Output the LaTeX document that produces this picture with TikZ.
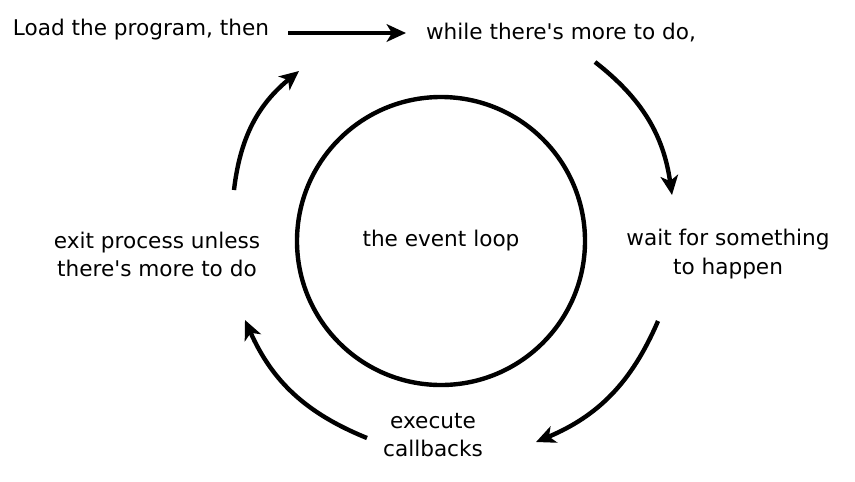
\documentclass[tikz,border=0pt]{standalone}
\usepackage{fontspec}
\newfontfamily\lblfont{DejaVu Sans}
\usetikzlibrary{arrows.meta,positioning}
\tikzset{
  lbl/.style={font=\lblfont\fontsize{12.3}{16}\selectfont, align=center},
  flow/.style={line width=2.5pt, -{Stealth[length=11pt,width=10pt,inset=3pt]}}
}
\begin{document}
\begin{tikzpicture}[x=0.02cm,y=-0.02cm]
\useasboundingbox (0,0) rectangle (855,481);
\node[draw, circle, line width=2.5pt, minimum size=288*0.02cm, inner sep=0pt] (loop) at (441,241) {};
\node[lbl] (el) at (441,241) {the event loop};
\node[lbl] (load) at (141,30) {Load the program, then};
\node[lbl] (more) at (561,33) {while there's more to do,};
\node[lbl] (wait) at (728,254) {wait for something\\to happen};
\node[lbl] (exec) at (433,435) {execute\\callbacks};
\node[lbl] (exit) at (157,254) {exit process unless\\there's more to do};
% arrow ends
\coordinate (a1) at (288,33);  \coordinate (b1) at (406,33);
\coordinate (a2) at (595,62);  \coordinate (b2) at (672,195);
\coordinate (a3) at (658,321); \coordinate (b3) at (536,442);
\coordinate (a4) at (367,438); \coordinate (b4) at (245,320);
\coordinate (a5) at (234,190); \coordinate (b5) at (299,71);
\draw[flow] (a1) -- (b1);
\draw[flow] (a2) to[bend left=22] (b2);
\draw[flow] (a3) to[bend left=22] (b3);
\draw[flow] (a4) to[bend left=22] (b4);
\draw[flow] (a5) to[bend left=22] (b5);
\end{tikzpicture}
\end{document}
